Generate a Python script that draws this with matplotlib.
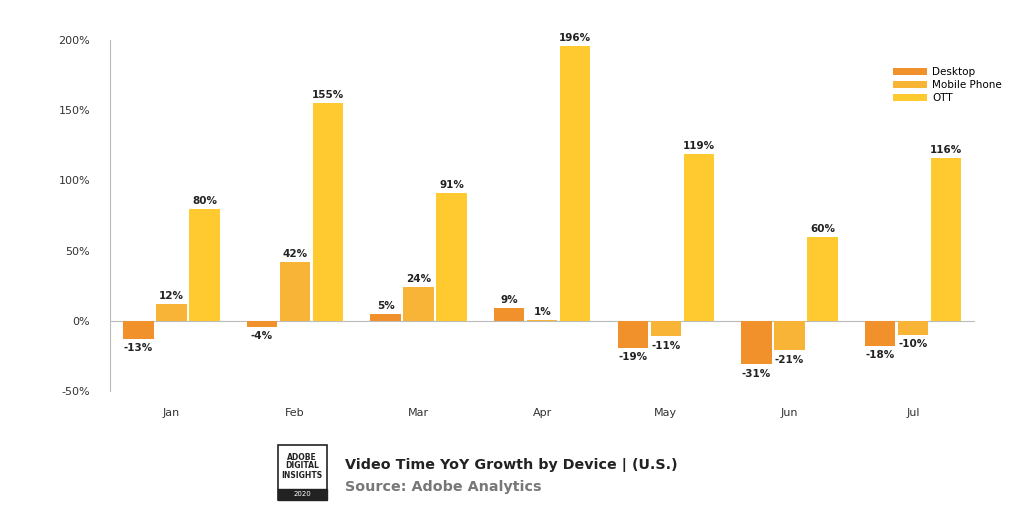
import matplotlib
matplotlib.use("Agg")
import matplotlib.pyplot as plt
import numpy as np
from matplotlib.patches import Rectangle

months = ["Jan", "Feb", "Mar", "Apr", "May", "Jun", "Jul"]
desktop = [-13, -4, 5, 9, -19, -31, -18]
mobile = [12, 42, 24, 1, -11, -21, -10]
ott = [80, 155, 91, 196, 119, 60, 116]
series_names = ["Desktop", "Mobile Phone", "OTT"]
colors = ["#F0912B", "#F8B436", "#FFCA30"]

fig = plt.figure(figsize=(10.24, 5.12), dpi=100)
ax = fig.add_axes([0.107, 0.236, 0.845, 0.686])
x = np.arange(len(months))
w, off = 0.245, 0.267
for i, (vals, name, c) in enumerate(zip([desktop, mobile, ott], series_names, colors)):
    xs = x + (i - 1) * off
    ax.bar(xs, vals, w, color=c, label=name, zorder=2)
    for xi, v in zip(xs, vals):
        ax.text(xi, v + (2 if v >= 0 else -3), f"{v}%", ha="center",
                va="bottom" if v >= 0 else "top", fontsize=7.5, fontweight="bold", color="#222222")
ax.set_ylim(-50, 200)
ax.set_xlim(-0.5, 6.5)
ax.set_yticks([-50, 0, 50, 100, 150, 200])
ax.set_yticklabels([f"{t}%" for t in [-50, 0, 50, 100, 150, 200]], fontsize=8, color="#333333")
ax.set_xticks(x)
ax.set_xticklabels(months, fontsize=8, color="#333333")
ax.tick_params(length=0, pad=12)
ax.tick_params(axis="y", pad=14)
for s in ["top", "right", "bottom"]:
    ax.spines[s].set_visible(False)
ax.spines["left"].set_color("#bbbbbb")
ax.axhline(0, color="#bbbbbb", lw=0.8, zorder=1)
ax.legend(loc="upper left", bbox_to_anchor=(0.895, 0.95), frameon=False, fontsize=7.5,
          handlelength=3.2, handleheight=0.6, labelspacing=0.3, handletextpad=0.5)

# logo
fig.patches.append(Rectangle((278/1024, 1-500/512), 49/1024, 55/512, transform=fig.transFigure,
                             fill=False, edgecolor="#222222", lw=1.2))
fig.patches.append(Rectangle((278/1024, 1-500/512), 49/1024, 11/512, transform=fig.transFigure,
                             facecolor="#222222", edgecolor="#222222"))
fig.text(302/1024, 1-466/512, "ADOBE\nDIGITAL\nINSIGHTS", ha="center", va="center",
         fontsize=5.5, fontweight="bold", linespacing=1.0, color="#222222")
fig.text(302/1024, 1-494/512, "2020", ha="center", va="center", fontsize=5, color="white")
fig.text(345/1024, 1-465/512, "Video Time YoY Growth by Device | (U.S.)", fontsize=10.3,
         fontweight="bold", color="#222222", va="center")
fig.text(345/1024, 1-487/512, "Source: Adobe Analytics", fontsize=10.3, fontweight="bold",
         color="#777777", va="center")
fig.savefig("out.png", dpi=100, facecolor="white")
